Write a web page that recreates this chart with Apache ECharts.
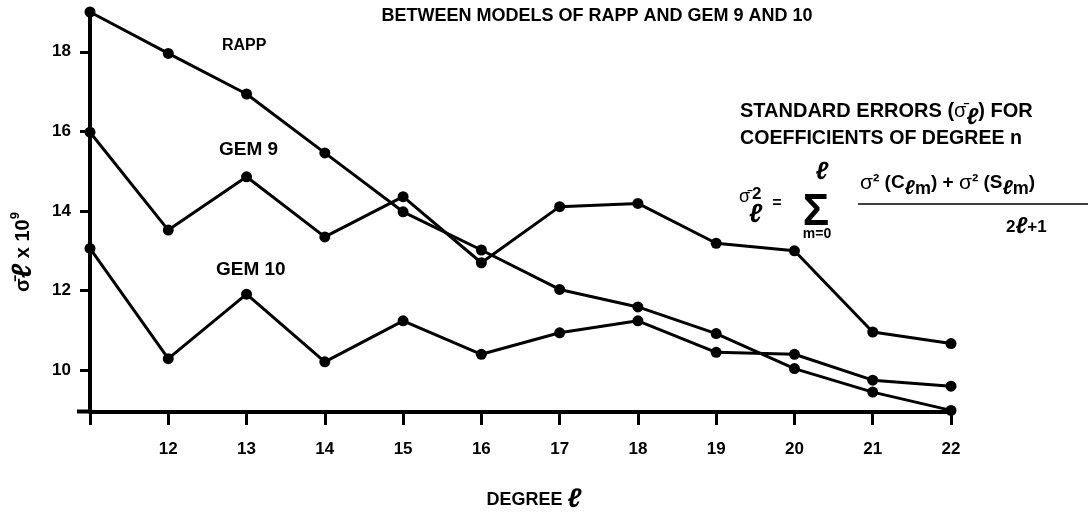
<!DOCTYPE html>
<html>
<head>
<meta charset="utf-8">
<script src="https://cdn.jsdelivr.net/npm/echarts@6/dist/echarts.min.js"></script>
<style>
html,body{margin:0;padding:0;background:#fff;}
#c{width:1092px;height:517px;}
</style>
</head>
<body>
<div id="c"></div>
<script>
const degrees = [11,12,13,14,15,16,17,18,19,20,21,22];
const rapp  = [19.0,17.96,16.94,15.46,13.98,13.02,12.03,11.59,10.92,10.04,9.45,8.99];
const gem9  = [15.98,13.52,14.86,13.35,14.36,12.70,14.11,14.19,13.19,13.00,10.96,10.67];
const gem10 = [13.06,10.29,11.91,10.21,11.24,10.40,10.94,11.24,10.45,10.40,9.75,9.60];
const yTicks = [10,12,14,16,18];
const xLabels = [12,13,14,15,16,17,18,19,20,21,22];

const chart = echarts.init(document.getElementById('c'));
const F = '"Liberation Sans", Arial, sans-serif';
function mk(name, vals){
  return {
    name: name, type:'line', data: degrees.map((d,i)=>[d,vals[i]]),
    symbol:'circle', symbolSize:11, showSymbol:true,
    lineStyle:{color:'#000', width:3},
    itemStyle:{color:'#000'},
    emphasis:{disabled:true}, animation:false, z:5
  };
}
const txt = (x,y,t,size,extra)=>({type:'text', x:x, y:y, style:Object.assign({text:t, font:'bold '+size+'px '+F, fill:'#000', textAlign:'left', textVerticalAlign:'middle'}, extra||{})});

chart.setOption({
  animation:false,
  grid:{left:90, right:141, top:12, bottom:105},
  xAxis:{
    type:'value', min:11, max:22, interval:1,
    axisLine:{lineStyle:{color:'#000', width:4}},
    axisTick:{show:true, length:13, lineStyle:{color:'#000', width:3}},
    axisLabel:{customValues:xLabels, margin:29, color:'#000', fontFamily:F, fontWeight:'bold', fontSize:17},
    splitLine:{show:false}
  },
  yAxis:{
    type:'value', min:8.95, max:19,
    axisLine:{show:true, lineStyle:{color:'#000', width:4}},
    axisTick:{show:true, customValues:yTicks, length:10, lineStyle:{color:'#000', width:3}},
    axisLabel:{customValues:yTicks, margin:19, color:'#000', fontFamily:F, fontWeight:'bold', fontSize:17},
    splitLine:{show:false}
  },
  series:[mk('RAPP',rapp), mk('GEM 9',gem9), mk('GEM 10',gem10)],
  graphic:[
    txt(597,16,'BETWEEN MODELS OF RAPP AND GEM 9 AND 10',18,{textAlign:'center'}),
    txt(222,46,'RAPP',16),
    txt(219,150,'GEM 9',19),
    txt(216,270,'GEM 10',19),
    {type:'text', x:23, y:252, rotation:Math.PI/2, style:{
      rich:{a:{font:'bold 20px '+F}, l:{font:'bold italic 28px '+F}, s:{font:'bold 13px '+F, verticalAlign:'top'}},
      text:'{a|σ̄}{l|ℓ}{a| x 10}{s|9}', fill:'#000', textAlign:'center', textVerticalAlign:'middle'}},
    {type:'text', x:534, y:500, style:{
      rich:{a:{font:'bold 18px '+F}, l:{font:'bold italic 27px '+F}},
      text:'{a|DEGREE }{l|ℓ}', fill:'#000', textAlign:'center', textVerticalAlign:'middle'}},
    {type:'text', x:740, y:111, style:{
      rich:{a:{font:'bold 20px '+F}, g:{font:'20px '+F}, l:{font:'bold italic 23px '+F, padding:[14,0,0,0]}},
      text:'{a|STANDARD ERRORS (}{g|σ̄}{l|ℓ}{a|) FOR}', fill:'#000', textAlign:'left', textVerticalAlign:'middle'}},
    txt(740,139,'COEFFICIENTS OF DEGREE n',19.6),
    // formula
    txt(739,197,'σ̄',18,{font:'18px '+F}),
    txt(752,194,'2',17),
    txt(749,215,'ℓ',26,{font:'bold italic 26px '+F}),
    txt(777,204,'=',16,{textAlign:'center'}),
    txt(816,213,'Σ',44,{font:'bold 44px '+F, textAlign:'center'}),
    txt(822,172,'ℓ',25,{font:'bold italic 25px '+F, textAlign:'center'}),
    txt(817,234,'m=0',14,{textAlign:'center'}),
    {type:'text', x:860, y:183, style:{
      rich:{a:{font:'bold 19px '+F}, g:{font:'21px '+F}, l:{font:'bold italic 20px '+F, verticalAlign:'bottom', padding:[10,0,0,0]}, m:{font:'bold 18px '+F, verticalAlign:'bottom', padding:[10,0,0,0]}},
      text:'{g|σ}{a|² (C}{l|ℓ}{m|m}{a|) + }{g|σ}{a|² (S}{l|ℓ}{m|m}{a|)}', fill:'#000', textAlign:'left', textVerticalAlign:'middle'}},
    {type:'line', shape:{x1:858, y1:204, x2:1088, y2:204}, style:{stroke:'#000', lineWidth:1.5}},
    {type:'text', x:1006, y:227, style:{
      rich:{a:{font:'bold 17px '+F}, l:{font:'bold italic 23px '+F}},
      text:'{a|2}{l|ℓ}{a|+1}', fill:'#000', textAlign:'left', textVerticalAlign:'middle'}},
    {type:'line', shape:{x1:77, y1:411.5, x2:90, y2:411.5}, style:{stroke:'#000', lineWidth:4}}
  ]
});
</script>
</body>
</html>
